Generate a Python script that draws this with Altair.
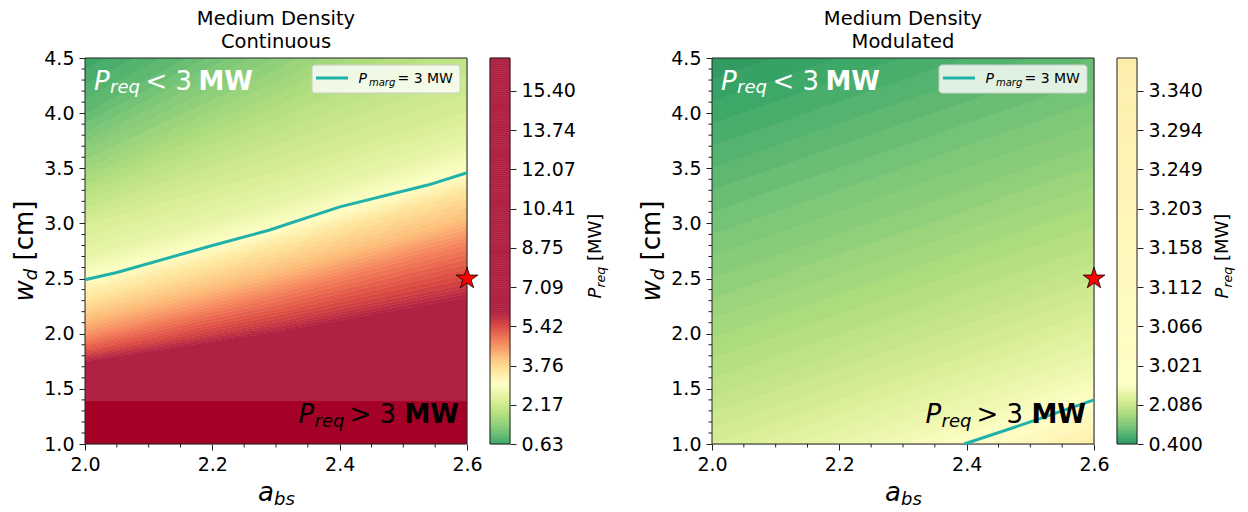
import altair as alt
import numpy as np
import pandas as pd

FONT = "DejaVu Sans"

# ---------------- data ----------------
# Left panel (Continuous): filled iso-contours of P_req [MW].
# Each contour is given by its w_d position at a_bs = 2.0, 2.3, 2.6
LEFT_A = [2.0, 2.3, 2.6]
LEFT_LEVELS = [6.0, 5.9, 5.8, 5.7, 5.6, 5.5, 5.4, 5.3, 5.2, 5.1, 5.0, 4.9, 4.8, 4.7, 4.6,
               4.5, 4.4, 4.3, 4.2, 4.1, 4.0, 3.9, 3.8, 3.7, 3.6, 3.5, 3.4, 3.3, 3.2, 3.1,
               3.0, 2.9, 2.8, 2.7, 2.6, 2.5, 2.4, 2.3, 2.2, 2.1, 2.0, 1.9, 1.8, 1.7, 1.6,
               1.5, 1.4, 1.3, 1.2, 1.1, 1.0, 0.9, 0.8, 0.7, 0.6]
LEFT_CONTOURS = [
    [1.750, 2.015, 2.330], [1.764, 2.037, 2.360], [1.779, 2.060, 2.390],
    [1.793, 2.082, 2.420], [1.807, 2.104, 2.450], [1.821, 2.133, 2.495],
    [1.836, 2.163, 2.540], [1.850, 2.193, 2.585], [1.871, 2.226, 2.630],
    [1.893, 2.259, 2.675], [1.914, 2.292, 2.720], [1.936, 2.326, 2.765],
    [1.957, 2.359, 2.810], [1.979, 2.387, 2.844], [2.000, 2.415, 2.879],
    [2.029, 2.446, 2.913], [2.057, 2.477, 2.947], [2.086, 2.509, 2.981],
    [2.114, 2.540, 3.016], [2.143, 2.572, 3.050], [2.171, 2.610, 3.098],
    [2.200, 2.648, 3.146], [2.235, 2.690, 3.194], [2.269, 2.731, 3.242],
    [2.304, 2.772, 3.290], [2.338, 2.803, 3.318], [2.373, 2.835, 3.347],
    [2.404, 2.865, 3.375], [2.433, 2.893, 3.403], [2.461, 2.922, 3.432],
    [2.490, 2.950, 3.460], [2.540, 3.005, 3.523], [2.590, 3.060, 3.585],
    [2.640, 3.115, 3.648], [2.690, 3.170, 3.710], [2.790, 3.270, 3.810],
    [2.890, 3.370, 3.910], [2.990, 3.470, 4.010], [3.061, 3.588, 4.173],
    [3.133, 3.706, 4.337], [3.204, 3.823, 4.500], [3.276, 3.941, 4.667],
    [3.347, 4.056, 4.833], [3.419, 4.167, 5.000], [3.490, 4.278, 5.167],
    [3.573, 4.389, 5.333], [3.657, 4.500, 5.500], [3.740, 4.611, 5.667],
    [3.823, 4.722, 5.833], [3.907, 4.833, 6.000], [3.990, 4.944, 6.167],
    [4.125, 5.055, 6.333], [4.260, 5.166, 6.500], [4.395, 5.277, 6.667],
    [4.530, 5.388, 6.833],
]
# saturated red zone below the 6 MW contour, and the deeper red strip at the bottom
LEFT_DEEP_VALUE = 10.0
LEFT_FLOOR_W = 1.39
LEFT_FLOOR_VALUE = 17.5

# Right panel (Modulated): straight iso-contours, w_d at a_bs = 2.0 and 2.6
RIGHT_A = [2.0, 2.6]
RIGHT_LEVELS = [3.4, 3.3, 3.2, 3.1, 3.0, 2.9, 2.8, 2.7, 2.6, 2.5, 2.4, 2.3, 2.2, 2.1, 2.0,
                1.9, 1.8, 1.7, 1.6, 1.5, 1.4, 1.3, 1.2, 1.1, 1.0, 0.9, 0.8, 0.7, 0.6, 0.5, 0.4]
RIGHT_CONTOURS = [
    [-0.22, 0.98], [-0.12, 1.08], [-0.02, 1.18], [0.089, 1.289], [0.2, 1.4],
    [0.3, 1.5], [0.4, 1.6], [0.5, 1.7], [0.625, 1.825], [0.75, 1.95],
    [0.875, 2.075], [1.0, 2.2], [1.143, 2.343], [1.286, 2.486], [1.429, 2.629],
    [1.591, 2.791], [1.773, 2.973], [1.955, 3.155], [2.136, 3.336], [2.318, 3.518],
    [2.5, 3.7], [2.7, 3.9], [2.9, 4.1], [3.1, 4.3], [3.3, 4.5],
    [3.5, 4.7], [3.7, 4.9], [3.9, 5.1], [4.1, 5.3], [4.3, 5.5], [4.5, 5.7],
]

# P_marg = 3 MW contour lines
LEFT_LINE_A = [2.0, 2.05, 2.2, 2.29, 2.4, 2.54, 2.6]
LEFT_LINE_W = [2.49, 2.555, 2.8, 2.94, 3.15, 3.35, 3.46]
RIGHT_LINE_A = [2.396, 2.5, 2.6]
RIGHT_LINE_W = [1.0, 1.2, 1.4]

# operating point (red star)
STAR_A = [2.6]
STAR_W = [2.5]

# axis ticks
X_DOMAIN = [2.0, 2.6]
Y_DOMAIN = [1.0, 4.5]
X_MAJOR = [2.0, 2.2, 2.4, 2.6]
X_MINOR = [2.05, 2.1, 2.15, 2.25, 2.3, 2.35, 2.45, 2.5, 2.55]
Y_MAJOR = [1.0, 1.5, 2.0, 2.5, 3.0, 3.5, 4.0, 4.5]
Y_MINOR = [1.1, 1.2, 1.3, 1.4, 1.6, 1.7, 1.8, 1.9, 2.1, 2.2, 2.3, 2.4, 2.6, 2.7,
           2.8, 2.9, 3.1, 3.2, 3.3, 3.4, 3.6, 3.7, 3.8, 3.9, 4.1, 4.2, 4.3, 4.4]

# colorbars: tick labels (evenly spaced) and the level values along the bar
CB_LEFT_TICKS = ["0.63", "2.17", "3.76", "5.42", "7.09", "8.75", "10.41", "12.07", "13.74", "15.40"]
CB_LEFT_IDX = [0, 1, 1.54, 2, 3, 4, 5, 6, 7, 8, 9, 9.84]
CB_LEFT_VAL = [0.63, 2.17, 3.0, 3.76, 5.42, 7.09, 8.75, 10.41, 12.07, 13.74, 15.40, 16.8]
CB_RIGHT_TICKS = ["0.400", "2.086", "3.021", "3.066", "3.112", "3.158", "3.203", "3.249", "3.294", "3.340"]
CB_RIGHT_IDX = [0, 1, 1.54, 2, 3, 4, 5, 6, 7, 8, 9, 9.84]
CB_RIGHT_VAL = [0.4, 2.086, 3.0, 3.021, 3.066, 3.112, 3.158, 3.203, 3.249, 3.294, 3.340, 3.378]

# colour map (RdYlGn reversed, centred on 3 MW, saturating at 6 MW)
CDOM = [0, 0.6, 1.2, 1.8, 2.4, 3.0, 3.6, 4.2, 4.8, 5.4, 6.0, 16.8, 16.9, 20]
CRANGE = ["#217c51", "#38a567", "#7ac677", "#b2de7d", "#def19a", "#ffffc7", "#fee49a",
          "#fdb976", "#f5805b", "#dc4b43", "#b12142", "#b12142", "#a50026", "#a50026"]

# ---------------- chart ----------------
W, H = 382, 386
TEAL = "#20b2aa"
INK = "#222222"
STAR = ("M0,-1L0.2245,-0.309L0.9511,-0.309L0.3633,0.118L0.5878,0.809L0,0.382"
        "L-0.5878,0.809L-0.3633,0.118L-0.9511,-0.309L-0.2245,-0.309Z")

XS = alt.Scale(domain=X_DOMAIN, nice=False, zero=False)
YS = alt.Scale(domain=Y_DOMAIN, nice=False, zero=False)
CS = alt.Scale(domain=CDOM, range=CRANGE, interpolate="rgb", clamp=True)

AX = dict(labelFont=FONT, labelFontSize=19, labelColor="black", tickColor=INK,
          tickSize=6, tickWidth=1, domain=False, grid=False, title=None,
          labelFlush=False, labelOverlap=False, labelPadding=5)
XAXIS = alt.Axis(values=X_MAJOR, format=".1f", **AX)
YAXIS = alt.Axis(values=Y_MAJOR, format=".1f", **AX)

ONE = pd.DataFrame({"k": [0]})


def T(s, x, y, size, color="black", style="normal", weight="normal", angle=0, align="left"):
    return alt.Chart(ONE).mark_text(
        text=s, font=FONT, fontSize=size, fontStyle=style, fontWeight=weight,
        color=color, angle=angle, align=align, baseline="alphabetic"
    ).encode(x=alt.value(x), y=alt.value(y))


def band_rows(a_pts, levels, contours):
    rows = []
    for k in range(len(levels) - 1):
        v = (levels[k] + levels[k + 1]) / 2
        for a, lo, hi in zip(a_pts, contours[k], contours[k + 1]):
            rows.append({"a": a, "lo": lo, "hi": hi, "v": v, "band": "b%03d" % k})
    return rows


def colorbar(idx, val, ticks):
    edges = np.linspace(0, idx[-1], 198)
    centers = (edges[:-1] + edges[1:]) / 2
    df = pd.DataFrame({"i0": edges[:-1], "i1": edges[1:], "v": np.interp(centers, idx, val)})
    cs = alt.Scale(domain=[0, idx[-1]], nice=False, zero=False)
    expr = "[" + ",".join("'%s'" % t for t in ticks) + "][datum.value]"
    ax = alt.Axis(orient="right", offset=43, values=list(range(len(ticks))), labelExpr=expr, **AX)
    bins = alt.Chart(df).mark_rect(strokeWidth=0.6).encode(
        x=alt.value(405), x2=alt.value(425),
        y=alt.Y("i0:Q", scale=cs, axis=ax), y2="i1:Q",
        color=alt.Color("v:Q", scale=CS, legend=None),
        stroke=alt.Stroke("v:Q", scale=CS, legend=None),
    )
    border = alt.Chart(pd.DataFrame({"i0": [0.0], "i1": [idx[-1]]})).mark_rect(
        fillOpacity=0, stroke=INK, strokeWidth=1
    ).encode(x=alt.value(405), x2=alt.value(425),
             y=alt.Y("i0:Q", scale=cs, axis=ax), y2="i1:Q")
    return alt.layer(bins, border)


def panel(rows, la, lw, subtitle, cb_idx, cb_val, cb_ticks, anchor=False):
    heat = alt.Chart(pd.DataFrame(rows)).mark_area(clip=True, strokeWidth=0.5).encode(
        x=alt.X("a:Q", scale=XS, axis=XAXIS),
        y=alt.Y("lo:Q", scale=YS, axis=YAXIS), y2="hi:Q",
        color=alt.Color("v:Q", scale=CS, legend=None),
        stroke=alt.Stroke("v:Q", scale=CS, legend=None),
        detail="band:N",
    )
    frame = alt.Chart(pd.DataFrame({"a0": [X_DOMAIN[0]], "a1": [X_DOMAIN[1]],
                                    "w0": [Y_DOMAIN[0]], "w1": [Y_DOMAIN[1]]})).mark_rect(
        fillOpacity=0, stroke=INK, strokeWidth=1
    ).encode(x=alt.X("a0:Q", scale=XS, axis=XAXIS), x2="a1:Q",
             y=alt.Y("w0:Q", scale=YS, axis=YAXIS), y2="w1:Q")
    xminor = alt.Chart(pd.DataFrame({"m": X_MINOR})).mark_rule(color=INK, strokeWidth=1).encode(
        x=alt.X("m:Q", scale=XS, axis=XAXIS), y=alt.value(H), y2=alt.value(H + 3.5))
    yminor = alt.Chart(pd.DataFrame({"m": Y_MINOR})).mark_rule(color=INK, strokeWidth=1).encode(
        y=alt.Y("m:Q", scale=YS, axis=YAXIS), x=alt.value(-3.5), x2=alt.value(0))
    line = alt.Chart(pd.DataFrame({"a": la, "w": lw, "o": list(range(len(la)))})).mark_line(
        color=TEAL, strokeWidth=3
    ).encode(x=alt.X("a:Q", scale=XS, axis=XAXIS), y=alt.Y("w:Q", scale=YS, axis=YAXIS),
             order="o:Q")
    star = alt.Chart(pd.DataFrame({"a": STAR_A, "w": STAR_W})).mark_point(
        shape=STAR, size=520, filled=True, fill="#ff0000", stroke="black",
        strokeWidth=0.8, opacity=1
    ).encode(x=alt.X("a:Q", scale=XS, axis=XAXIS), y=alt.Y("w:Q", scale=YS, axis=YAXIS))

    leg_box = alt.Chart(ONE).mark_rect(fill="white", fillOpacity=0.8, stroke="#cccccc",
                                       strokeWidth=1, cornerRadius=3).encode(
        x=alt.value(227), x2=alt.value(375), y=alt.value(7), y2=alt.value(35))
    leg_line = alt.Chart(ONE).mark_rule(color=TEAL, strokeWidth=3).encode(
        x=alt.value(231), x2=alt.value(263), y=alt.value(20))

    texts = [
        # titles
        T("Medium Density", W / 2, -33, 19.5, align="center"),
        T(subtitle, W / 2, -10, 19.5, align="center"),
        # upper annotation (white)
        T("P", 9, 31.5, 26, color="white", style="italic"),
        T("req", 25, 35, 18, color="white", style="italic"),
        T("< 3", 60.5, 31.5, 26, color="white"),
        T("MW", 113.5, 31.5, 26, color="white", weight="bold"),
        # lower annotation (black)
        T("P", 213.5, 365, 26, style="italic"),
        T("req", 229.5, 368.5, 18, style="italic"),
        T("> 3", 264.5, 365, 26),
        T("MW", 319.5, 365, 26, weight="bold"),
        # x title
        T("a", 173, 443, 26, style="italic"),
        T("bs", 189, 447, 18, style="italic"),
        # y title (rotated)
        T("w", -52, 243.5, 26, style="italic", angle=270),
        T("d", -48, 222.2, 18, style="italic", angle=270),
        T("[cm]", -52, 202.5, 26, angle=270),
        # colorbar title (rotated)
        T("P", 516, 240.5, 18, style="italic", angle=270),
        T("req", 519.5, 229.6, 12.5, style="italic", angle=270),
        T("[MW]", 516, 203.1, 18, angle=270),
    ]
    leg_texts = [
        T("P", 273.5, 25, 14, style="italic"),
        T("marg", 284, 28, 10, style="italic"),
        T("= 3 MW", 312.5, 25, 14),
    ]
    layers = [heat, frame, xminor, yminor, line] + texts + [leg_box, leg_line] + leg_texts + [star]
    if anchor:
        layers.append(alt.Chart(ONE).mark_rect(fill="white").encode(
            x=alt.value(-76), x2=alt.value(-75), y=alt.value(-49), y2=alt.value(-48)))
    main = alt.layer(*layers)
    cb = colorbar(cb_idx, cb_val, cb_ticks)
    return alt.layer(main, cb).resolve_scale(y="independent").properties(width=W, height=H)


# left panel bands: deep-red floor strip, saturated zone, then the contour bands
left_rows = []
for a, top in zip(LEFT_A, LEFT_CONTOURS[0]):
    left_rows.append({"a": a, "lo": Y_DOMAIN[0], "hi": LEFT_FLOOR_W, "v": LEFT_FLOOR_VALUE, "band": "f0"})
    left_rows.append({"a": a, "lo": LEFT_FLOOR_W, "hi": top, "v": LEFT_DEEP_VALUE, "band": "f1"})
left_rows += band_rows(LEFT_A, LEFT_LEVELS, LEFT_CONTOURS)
right_rows = band_rows(RIGHT_A, RIGHT_LEVELS, RIGHT_CONTOURS)

left = panel(left_rows, LEFT_LINE_A, LEFT_LINE_W, "Continuous",
             CB_LEFT_IDX, CB_LEFT_VAL, CB_LEFT_TICKS, anchor=True)
right = panel(right_rows, RIGHT_LINE_A, RIGHT_LINE_W, "Modulated",
              CB_RIGHT_IDX, CB_RIGHT_VAL, CB_RIGHT_TICKS)

chart = alt.hconcat(left, right, spacing=245, bounds="flush").properties(
    padding=0
).configure_view(stroke=None).configure(background="white")

chart.save("out.html", embed_options={"renderer": "svg", "actions": False})
